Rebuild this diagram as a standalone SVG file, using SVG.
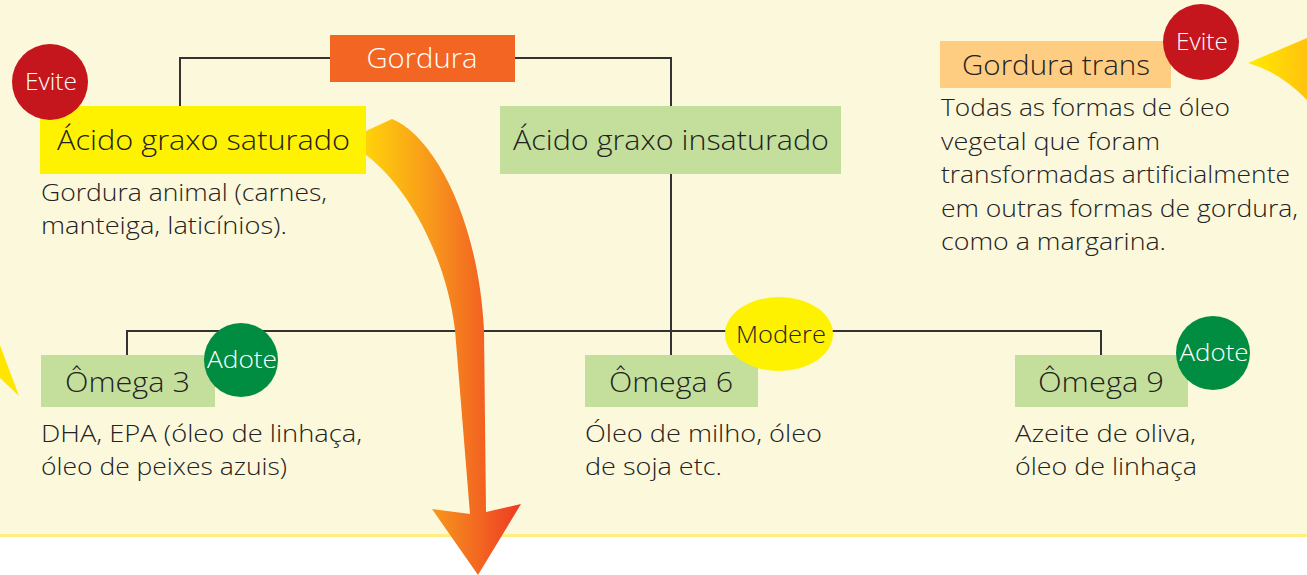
<svg xmlns="http://www.w3.org/2000/svg" width="1307" height="575" viewBox="0 0 1307 575">
<style>
.t{font-family:"Open Sans","Noto Sans",sans-serif;font-weight:300;fill:#222222}
.h{font-size:28px}
.d{font-size:23px}
.b{font-size:24px;fill:#ffffff;text-anchor:middle;font-weight:300}
.ln{stroke:#333333;stroke-width:2;fill:none}
</style>
<defs>
<linearGradient id="gArrow" x1="366" y1="0" x2="521" y2="0" gradientUnits="userSpaceOnUse">
<stop offset="0" stop-color="#FFD20A"/>
<stop offset="0.45" stop-color="#F7941D"/>
<stop offset="1" stop-color="#EE3A24"/>
</linearGradient>
<linearGradient id="gTri" x1="1248" y1="0" x2="1307" y2="0" gradientUnits="userSpaceOnUse">
<stop offset="0" stop-color="#FFEC00"/>
<stop offset="1" stop-color="#FFC20E"/>
</linearGradient>
</defs>
<rect x="0" y="0" width="1307" height="575" fill="#ffffff"/>
<rect x="0" y="0" width="1307" height="535" fill="#FCF8DB"/>
<rect x="0" y="534" width="1307" height="3" fill="#FFEE80"/>

<g id="connectors">
<polyline class="ln" points="330,58 180,58 180,106"/>
<polyline class="ln" points="515,58 671,58 671,106"/>
<line class="ln" x1="671" y1="174" x2="671" y2="355"/>
<polyline class="ln" points="127,355 127,331 1101,331 1101,355"/>
</g>

<polygon id="tri-left" points="0,345 19,396 0,378" fill="#FFE600"/>
<path id="tri-right" d="M1248,63 L1307,38 L1307,100 Q1280,72 1248,63 Z" fill="url(#gTri)"/>

<g id="gordura">
<rect x="330" y="35" width="185" height="47" fill="#F26522"/>
<text class="t" x="422" y="68" font-size="28" style="fill:#ffffff" text-anchor="middle" textLength="111" lengthAdjust="spacingAndGlyphs">Gordura</text>
</g>

<g id="saturado">
<rect x="40" y="106" width="326" height="68" fill="#FFF200"/>
<text class="t h" x="57" y="150" textLength="293" lengthAdjust="spacingAndGlyphs">Ácido graxo saturado</text>
<text class="t d" x="41" y="201" textLength="286" lengthAdjust="spacingAndGlyphs">Gordura animal (carnes,</text>
<text class="t d" x="41" y="234" textLength="246" lengthAdjust="spacingAndGlyphs">manteiga, laticínios).</text>
</g>

<g id="evite-1">
<circle cx="50" cy="82" r="38" fill="#C4161C"/>
<text class="t b" x="51" y="90" textLength="52" lengthAdjust="spacingAndGlyphs">Evite</text>
</g>

<g id="insaturado">
<rect x="500" y="106" width="341" height="68" fill="#C4DF9B"/>
<text class="t h" x="513" y="150" textLength="316" lengthAdjust="spacingAndGlyphs">Ácido graxo insaturado</text>
</g>

<g id="trans">
<rect x="940" y="41" width="231" height="47" fill="#FECD82"/>
<text class="t h" x="962" y="75" textLength="188" lengthAdjust="spacingAndGlyphs">Gordura trans</text>
<text class="t d" x="941" y="116" textLength="289" lengthAdjust="spacingAndGlyphs">Todas as formas de óleo</text>
<text class="t d" x="941" y="150" textLength="219" lengthAdjust="spacingAndGlyphs">vegetal que foram</text>
<text class="t d" x="941" y="183" textLength="349" lengthAdjust="spacingAndGlyphs">transformadas artificialmente</text>
<text class="t d" x="941" y="217" textLength="357" lengthAdjust="spacingAndGlyphs">em outras formas de gordura,</text>
<text class="t d" x="941" y="250" textLength="225" lengthAdjust="spacingAndGlyphs">como a margarina.</text>
</g>

<g id="evite-2">
<circle cx="1201" cy="42" r="38" fill="#C4161C"/>
<text class="t b" x="1202" y="50" textLength="52" lengthAdjust="spacingAndGlyphs">Evite</text>
</g>

<g id="omega3">
<rect x="41" y="355" width="174" height="52" fill="#C4DF9B"/>
<text class="t h" x="65" y="392" textLength="125" lengthAdjust="spacingAndGlyphs">Ômega 3</text>
<text class="t d" x="41" y="442" textLength="321" lengthAdjust="spacingAndGlyphs">DHA, EPA (óleo de linhaça,</text>
<text class="t d" x="41" y="475" textLength="246" lengthAdjust="spacingAndGlyphs">óleo de peixes azuis)</text>
</g>

<g id="adote-1">
<circle cx="241" cy="360" r="37" fill="#008D41"/>
<text class="t b" x="242" y="368" textLength="70" lengthAdjust="spacingAndGlyphs">Adote</text>
</g>

<g id="omega6">
<rect x="585" y="355" width="173" height="52" fill="#C4DF9B"/>
<text class="t h" x="609" y="392" textLength="124" lengthAdjust="spacingAndGlyphs">Ômega 6</text>
<text class="t d" x="585" y="442" textLength="237" lengthAdjust="spacingAndGlyphs">Óleo de milho, óleo</text>
<text class="t d" x="585" y="475" textLength="137" lengthAdjust="spacingAndGlyphs">de soja etc.</text>
</g>

<g id="modere">
<ellipse cx="779" cy="334" rx="54" ry="37" fill="#FFF200"/>
<text class="t" x="781" y="343" font-size="24" font-weight="400" text-anchor="middle" textLength="90" lengthAdjust="spacingAndGlyphs">Modere</text>
</g>

<g id="omega9">
<rect x="1015" y="355" width="173" height="52" fill="#C4DF9B"/>
<text class="t h" x="1038" y="392" textLength="126" lengthAdjust="spacingAndGlyphs">Ômega 9</text>
<text class="t d" x="1015" y="442" textLength="181" lengthAdjust="spacingAndGlyphs">Azeite de oliva,</text>
<text class="t d" x="1015" y="475" textLength="182" lengthAdjust="spacingAndGlyphs">óleo de linhaça</text>
</g>

<g id="adote-2">
<circle cx="1213" cy="353" r="37" fill="#008D41"/>
<text class="t b" x="1214" y="361" textLength="69" lengthAdjust="spacingAndGlyphs">Adote</text>
</g>

<path id="big-arrow" d="M366,131 L392,119 C432,135 478,215 484,330 L486,512 L521,504 L478,575 L432,509 L470,514 L455,330 C447,262 412,190 366,155 Z" fill="url(#gArrow)"/>
</svg>
